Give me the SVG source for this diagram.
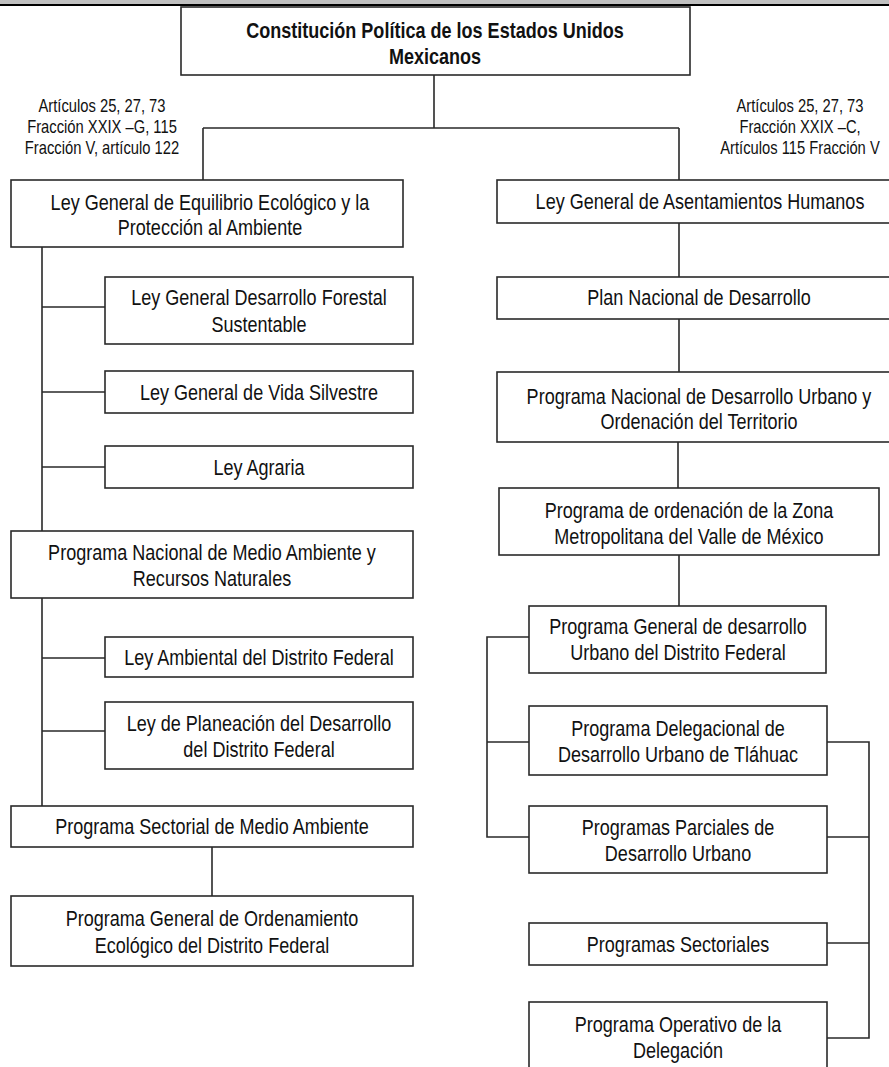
<svg xmlns="http://www.w3.org/2000/svg" width="889" height="1067" viewBox="0 0 889 1067">
<style>
.box{fill:#fff;stroke:#2a2a2a;stroke-width:1.6}
.ln{fill:none;stroke:#2a2a2a;stroke-width:1.6}
text{font-family:"Liberation Sans",Arial,sans-serif;font-size:22px;text-anchor:middle;fill:#111}
.a{font-size:18px}
.b{font-weight:bold}
</style>
<rect x="0" y="0" width="889" height="1067" fill="#fff"/>
<rect x="0" y="0" width="889" height="4" fill="#c0c0c0"/>
<rect x="0" y="4" width="889" height="2" fill="#000"/>

<g id="connectors">
<path class="ln" d="M434,75V128M203,128H679M203,128V180M679,128V180"/>
<path class="ln" d="M42,247V531M42,307H105M42,392H105M42,467H105"/>
<path class="ln" d="M42,598V806M42,658H105M42,731H105"/>
<path class="ln" d="M212,847V896"/>
<path class="ln" d="M679,223V277M679,319V372M678,442V488M679,555V606"/>
<path class="ln" d="M529,637H487V837H529M487,742H529"/>
<path class="ln" d="M827,742H869V1038H827M827,837H869M827,943H869"/>
</g>

<g id="constitucion">
<rect class="box" x="181" y="7" width="509" height="68"/>
<text class="b" transform="translate(435,38) scale(0.82,1)">Constitución Política de los Estados Unidos</text>
<text class="b" transform="translate(435,64) scale(0.82,1)">Mexicanos</text>
</g>

<g id="nota-izq">
<text class="a" transform="translate(102,112) scale(0.82,1)">Artículos 25, 27, 73</text>
<text class="a" transform="translate(102,133) scale(0.82,1)">Fracción XXIX –G, 115</text>
<text class="a" transform="translate(102,154) scale(0.82,1)">Fracción V, artículo 122</text>
</g>
<g id="nota-der">
<text class="a" transform="translate(800,112) scale(0.82,1)">Artículos 25, 27, 73</text>
<text class="a" transform="translate(800,133) scale(0.82,1)">Fracción XXIX –C,</text>
<text class="a" transform="translate(800,154) scale(0.82,1)">Artículos 115 Fracción V</text>
</g>

<g id="lgeepa">
<rect class="box" x="11" y="180" width="392" height="67"/>
<text transform="translate(210,210) scale(0.82,1)">Ley General de Equilibrio Ecológico y la</text>
<text transform="translate(210,235) scale(0.82,1)">Protección al Ambiente</text>
</g>
<g id="forestal">
<rect class="box" x="105" y="277" width="308" height="67"/>
<text transform="translate(259,305) scale(0.82,1)">Ley General Desarrollo Forestal</text>
<text transform="translate(259,332) scale(0.82,1)">Sustentable</text>
</g>
<g id="vida">
<rect class="box" x="105" y="371" width="308" height="42"/>
<text transform="translate(259,400) scale(0.82,1)">Ley General de Vida Silvestre</text>
</g>
<g id="agraria">
<rect class="box" x="105" y="446" width="308" height="42"/>
<text transform="translate(259,475) scale(0.82,1)">Ley Agraria</text>
</g>
<g id="pnma">
<rect class="box" x="11" y="531" width="402" height="67"/>
<text transform="translate(212,560) scale(0.82,1)">Programa Nacional de Medio Ambiente y</text>
<text transform="translate(212,586) scale(0.82,1)">Recursos Naturales</text>
</g>
<g id="ley-ambiental">
<rect class="box" x="105" y="637" width="308" height="40"/>
<text transform="translate(259,665) scale(0.82,1)">Ley Ambiental del Distrito Federal</text>
</g>
<g id="ley-planeacion">
<rect class="box" x="105" y="702" width="308" height="67"/>
<text transform="translate(259,731) scale(0.82,1)">Ley de Planeación del Desarrollo</text>
<text transform="translate(259,757) scale(0.82,1)">del Distrito Federal</text>
</g>
<g id="psma">
<rect class="box" x="11" y="806" width="402" height="41"/>
<text transform="translate(212,834) scale(0.82,1)">Programa Sectorial de Medio Ambiente</text>
</g>
<g id="pgoedf">
<rect class="box" x="11" y="896" width="402" height="70"/>
<text transform="translate(212,926) scale(0.82,1)">Programa General de Ordenamiento</text>
<text transform="translate(212,953) scale(0.82,1)">Ecológico del Distrito Federal</text>
</g>

<g id="lgah">
<rect class="box" x="497" y="180" width="406" height="43"/>
<text transform="translate(700,209) scale(0.82,1)">Ley General de Asentamientos Humanos</text>
</g>
<g id="pnd">
<rect class="box" x="497" y="277" width="406" height="42"/>
<text transform="translate(699,305) scale(0.82,1)">Plan Nacional de Desarrollo</text>
</g>
<g id="pndu">
<rect class="box" x="497" y="372" width="406" height="70"/>
<text transform="translate(699,404) scale(0.82,1)">Programa Nacional de Desarrollo Urbano y</text>
<text transform="translate(699,429) scale(0.82,1)">Ordenación del Territorio</text>
</g>
<g id="pozmvm">
<rect class="box" x="499" y="488" width="380" height="67"/>
<text transform="translate(689,518) scale(0.82,1)">Programa de ordenación de la Zona</text>
<text transform="translate(689,544) scale(0.82,1)">Metropolitana del Valle de México</text>
</g>
<g id="pgdu">
<rect class="box" x="529" y="606" width="297" height="67"/>
<text transform="translate(678,634) scale(0.82,1)">Programa General de desarrollo</text>
<text transform="translate(678,660) scale(0.82,1)">Urbano del Distrito Federal</text>
</g>
<g id="pddu">
<rect class="box" x="529" y="706" width="298" height="69"/>
<text transform="translate(678,736) scale(0.82,1)">Programa Delegacional de</text>
<text transform="translate(678,762) scale(0.82,1)">Desarrollo Urbano de Tláhuac</text>
</g>
<g id="ppdu">
<rect class="box" x="529" y="806" width="298" height="67"/>
<text transform="translate(678,835) scale(0.82,1)">Programas Parciales de</text>
<text transform="translate(678,861) scale(0.82,1)">Desarrollo Urbano</text>
</g>
<g id="sectoriales">
<rect class="box" x="529" y="923" width="298" height="42"/>
<text transform="translate(678,952) scale(0.82,1)">Programas Sectoriales</text>
</g>
<g id="operativo">
<rect class="box" x="529" y="1002" width="298" height="70"/>
<text transform="translate(678,1032) scale(0.82,1)">Programa Operativo de la</text>
<text transform="translate(678,1058) scale(0.82,1)">Delegación</text>
</g>
</svg>
